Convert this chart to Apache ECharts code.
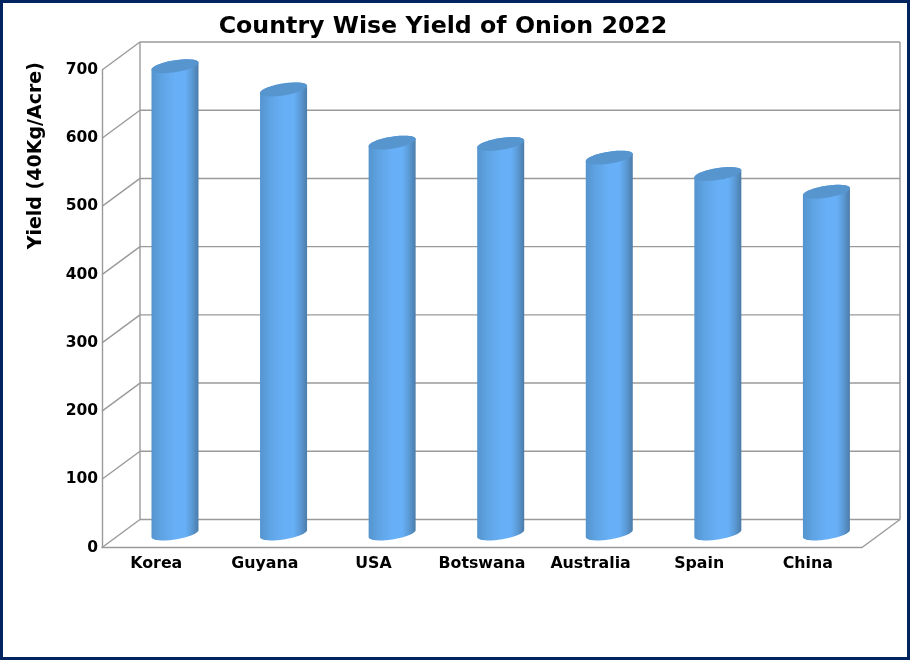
<!DOCTYPE html>
<html><head><meta charset="utf-8">
<script src="https://cdn.jsdelivr.net/npm/echarts@6/dist/echarts.min.js"></script>
<style>html,body{margin:0;padding:0;background:#fff}#c{width:910px;height:660px}</style>
</head><body><div id="c"></div>
<script>
const categories = ['Korea','Guyana','USA','Botswana','Australia','Spain','China'];
const yields = [685,651,573,571,551,527,501];
const yTicks = [0,100,200,300,400,500,600,700];
const titleText = 'Country Wise Yield of Onion 2022';
const yName = 'Yield (40Kg/Acre)';

const FONT = '"DejaVu Sans"';
const DX = 38, DY = 28, WALL = '#9a9a9a';
const HALF_W = 23.5, MINOR = 6, SHEAR = -0.15;

function ellipsePts(cx, cy, from, to, n) {
  const p = [];
  for (let i = 0; i <= n; i++) {
    const t = from + (to - from) * i / n;
    const dx = HALF_W * Math.cos(t);
    p.push([cx + dx, cy + SHEAR * dx + MINOR * Math.sin(t)]);
  }
  return p;
}
const line = (x1,y1,x2,y2) => ({type:'line',silent:true,shape:{x1,y1,x2,y2},style:{stroke:WALL,lineWidth:1.4,fill:null}});

function renderWall(params, api) {
  const v = api.value(0);
  const xs = api.coord([0, v]);
  const size = api.size([1, 0])[0];
  const left = xs[0] - size / 2, right = left + size * categories.length, y = xs[1];
  const items = [
    line(left, y, left + DX, y - DY),
    line(left + DX, y - DY, right + DX, y - DY)
  ];
  if (v === yTicks[0]) {
    items.push(line(right, y, right + DX, y - DY));
    const top = api.coord([0, yTicks[yTicks.length - 1]])[1];
    items.push(line(left + DX, y - DY, left + DX, top - DY));
    items.push(line(right + DX, y - DY, right + DX, top - DY));
  }
  return {type:'group', children: items};
}

function renderCylinder(params, api) {
  const top = api.coord([api.value(0), api.value(1)]);
  const base = api.coord([api.value(0), 0]);
  const cx = top[0] + DX / 2 - 0.3, yT = top[1] - DY / 2, yB = base[1] - DY / 2;
  const outline = ellipsePts(cx, yB, Math.PI, 0, 40).concat(ellipsePts(cx, yT, 0, -Math.PI, 40));
  return {type:'group', children:[
    {type:'polygon', shape:{points:outline}, style:{fill:new echarts.graphic.LinearGradient(0,0,1,0,[
      {offset:0,color:'#5594ce'},{offset:0.22,color:'#5fa4e4'},{offset:0.5,color:'#67aff6'},{offset:0.72,color:'#67aff6'},
      {offset:0.86,color:'#5b9ad6'},{offset:1,color:'#4c7ca9'}])}},
    {type:'polygon', shape:{points:ellipsePts(cx, yT, 0, Math.PI*2, 60)}, style:{fill:'#5795cf'}}
  ]};
}

const chart = echarts.init(document.getElementById('c'), null, {renderer:'canvas'});
chart.setOption({
  animation:false,
  backgroundColor:'#fff',
  title:{text:titleText,left:438,top:10,textAlign:'center',textStyle:{fontFamily:FONT,fontWeight:'bold',fontSize:23.7,color:'#000'}},
  grid:{left:102,right:48,top:70,bottom:112.5},
  xAxis:{type:'category',data:categories,
    axisLine:{lineStyle:{color:WALL,width:1.4}},axisTick:{show:false},splitLine:{show:false},
    axisLabel:{interval:0,margin:8,fontFamily:FONT,fontWeight:'bold',fontSize:15.8,color:'#000'}},
  yAxis:{type:'value',min:0,max:700,interval:100,name:yName,nameLocation:'middle',nameRotate:90,nameGap:56,
    nameTextStyle:{fontFamily:FONT,fontWeight:'bold',fontSize:19,color:'#000',padding:[0,0,0,306]},
    axisLine:{show:true,lineStyle:{color:WALL,width:1.4}},axisTick:{show:false},splitLine:{show:false},
    axisLabel:{margin:4,fontFamily:FONT,fontWeight:'bold',fontSize:15.5,color:'#000',padding:[5,0,0,0]}},
  series:[
    {type:'custom',name:'walls',clip:false,silent:true,z:1,coordinateSystem:'cartesian2d',
      data:yTicks.map(v=>[v]),encode:{y:0},renderItem:renderWall},
    {type:'custom',name:'Yield',clip:false,z:2,coordinateSystem:'cartesian2d',
      data:categories.map((c,i)=>[c,yields[i]]),encode:{x:0,y:1},renderItem:renderCylinder}
  ],
  graphic:[{type:'rect',silent:true,z:100,shape:{x:1.5,y:1.5,width:907,height:657},style:{fill:null,stroke:'#00245f',lineWidth:3}}]
});
</script></body></html>
